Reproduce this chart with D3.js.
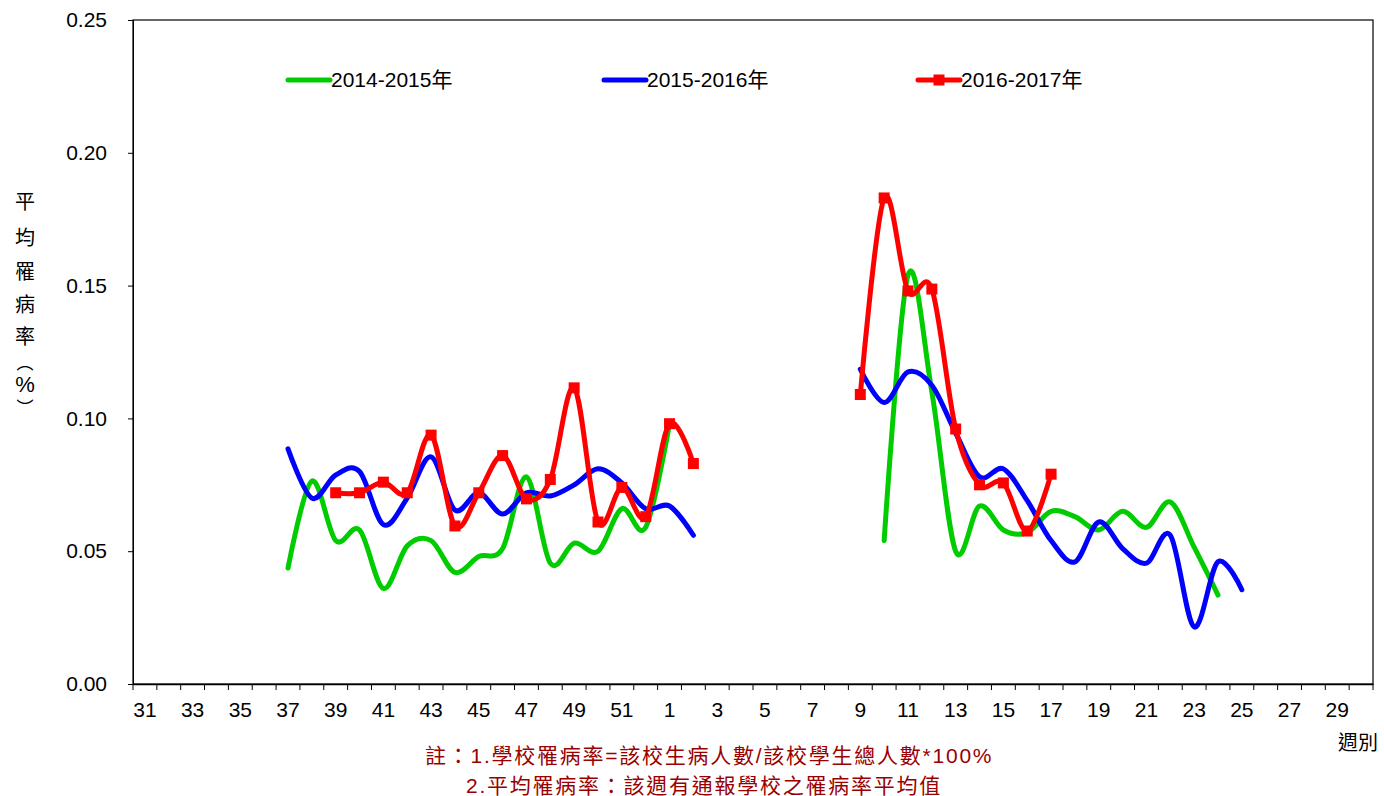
<!DOCTYPE html>
<html><head><meta charset="utf-8">
<script src="https://cdn.jsdelivr.net/npm/d3@7"></script>
<style>
body{margin:0;background:#fff;}
svg{display:block;}
text{font-family:"Liberation Sans",Arial,"Noto Sans CJK TC",sans-serif;}
</style></head>
<body>
<svg id="c" width="1384" height="796"></svg>
<script>
// ---- data ----
const weeks = [31,32,33,34,35,36,37,38,39,40,41,42,43,44,45,46,47,48,49,50,51,52,
  1,2,3,4,5,6,7,8,9,10,11,12,13,14,15,16,17,18,19,20,21,22,23,24,25,26,27,28,29,30].map(String);
const seriesNames = ["2014-2015年","2015-2016年","2016-2017年"];
const seriesColors = ["#00CC00","#0000FF","#FF0000"];
const yTicks = [0,0.05,0.10,0.15,0.20,0.25];

// 2014-2015: [week, value]
const s2014a = [["37",0.0437],["38",0.0764],["39",0.054],["40",0.058],["41",0.036],["42",0.052],["43",0.054],["44",0.042],["45",0.048],["46",0.051],["47",0.078],["48",0.0455],["49",0.053],["50",0.050],["51",0.066],["52",0.059],["1",0.098]];
const s2014b = [["10",0.054],["11",0.154],["12",0.110],["13",0.050],["14",0.067],["15",0.058],["16",0.057],["17",0.065],["18",0.063],["19",0.058],["20",0.065],["21",0.059],["22",0.0685],["23",0.0515],["24",0.0335]];
// 2015-2016
const s2015a = [["37",0.0885],["38",0.070],["39",0.0787],["40",0.080],["41",0.060],["42",0.070],["43",0.0855],["44",0.0655],["45",0.072],["46",0.064],["47",0.072],["48",0.0708],["49",0.075],["50",0.081],["51",0.0757],["52",0.066],["1",0.067],["2",0.056]];
const s2015b = [["9",0.1185],["10",0.106],["11",0.1175],["12",0.1125],["13",0.0945],["14",0.078],["15",0.081],["16",0.069],["17",0.054],["18",0.046],["19",0.061],["20",0.051],["21",0.0455],["22",0.056],["23",0.0215],["24",0.046],["25",0.0355]];
// 2016-2017
const s2016a = [["39",0.072],["40",0.072],["41",0.076],["42",0.072],["43",0.0937],["44",0.0595],["45",0.072],["46",0.086],["47",0.0697],["48",0.077],["49",0.1115],["50",0.061],["51",0.074],["52",0.063],["1",0.098],["2",0.083]];
const s2016b = [["9",0.109],["10",0.183],["11",0.148],["12",0.1487],["13",0.096],["14",0.075],["15",0.0757],["16",0.0576],["17",0.079]];

const titleBlue = "2014年至2017年學校傳染病監視系統類流感平均罹病率趨勢圖－";
const titleRed = "全國";
const yLabelChars = ["平","均","罹","病","率","︵","%","︶"];
const note1 = "註：1.學校罹病率=該校生病人數/該校學生總人數*100%";
const note2 = "2.平均罹病率：該週有通報學校之罹病率平均值";
const xTitle = "週別";

// ---- layout ----
const L=133, R=1373, T=20, B=684;
const svg = d3.select("#c");
const x = d3.scaleBand().domain(weeks).range([L,R]).padding(0);
const y = d3.scaleLinear().domain([0,0.25]).range([B,T]);
const bw = x.bandwidth();
const cx = w => x(w)+bw/2;

// title (mostly cropped at top, as in the reference)
const tt = svg.append("text").attr("x",300).attr("y",-4)
  .attr("font-size",30).attr("font-weight","bold").attr("fill","#333399")
  .style("font-family","'Noto Sans CJK TC',sans-serif");
tt.append("tspan").text(titleBlue);
tt.append("tspan").attr("fill","#FF0000").text(titleRed);

// plot border
svg.append("rect").attr("x",L).attr("y",T).attr("width",R-L).attr("height",B-T)
  .attr("fill","none").attr("stroke","#000").attr("stroke-width",1.2);

// y axis
const ya = svg.append("g").attr("transform",`translate(${L},0)`)
  .call(d3.axisLeft(y).tickValues(yTicks).tickFormat(d3.format(".2f")).tickSize(5).tickPadding(21));
ya.select(".domain").attr("stroke","#000");
ya.selectAll("text").attr("font-size",21).attr("fill","#000")
  .style("font-family","'Liberation Sans',Arial,sans-serif");

// x axis
const xa = svg.append("g").attr("transform",`translate(0,${B})`)
  .call(d3.axisBottom(x).tickSize(6).tickSizeOuter(0).tickPadding(12)
    .tickFormat((d,i)=> i%2===0 ? d : ""));
xa.select(".domain").attr("stroke","#000").attr("stroke-width",1.5);
xa.selectAll(".tick line").attr("transform",`translate(${-bw/2},0)`);
xa.append("line").attr("x1",R).attr("x2",R).attr("y1",0).attr("y2",6).attr("stroke","#000");
xa.selectAll("text").attr("font-size",21).attr("fill","#000")
  .style("font-family","'Liberation Sans',Arial,sans-serif");

// lines
const line = d3.line().x(d=>cx(d[0])).y(d=>y(d[1])).curve(d3.curveCardinal.tension(0));
const groups = [[s2014a,s2014b],[s2015a,s2015b],[s2016a,s2016b]];
const g = svg.append("g");
groups.forEach((segs,i)=>{
  segs.forEach(seg=>{
    g.append("path").attr("d",line(seg)).attr("fill","none")
      .attr("stroke",seriesColors[i]).attr("stroke-width",5)
      .attr("stroke-linecap","round").attr("stroke-linejoin","round");
  });
});
// red markers
[s2016a,s2016b].forEach(seg=>{
  g.selectAll(null).data(seg).enter().append("rect")
    .attr("x",d=>cx(d[0])-5.5).attr("y",d=>y(d[1])-5.5)
    .attr("width",11).attr("height",11).attr("fill","#FF0000");
});

// legend
const legX = [288,604,918];
seriesNames.forEach((n,i)=>{
  const lg = svg.append("g");
  lg.append("line").attr("x1",legX[i]).attr("x2",legX[i]+42).attr("y1",80).attr("y2",80)
    .attr("stroke",seriesColors[i]).attr("stroke-width",5).attr("stroke-linecap","round");
  if(i===2) lg.append("rect").attr("x",legX[i]+21-5.5).attr("y",80-5.5).attr("width",11).attr("height",11).attr("fill","#FF0000");
  lg.append("text").attr("x",legX[i]+43).attr("y",87).attr("font-size",21).attr("fill","#000").text(n);
});

// y axis title (vertical stacked)
const yPos = [200,236,270,303,335,361,384,406];
yLabelChars.forEach((c,i)=>{
  svg.append("text").attr("x",25).attr("y",yPos[i]).attr("text-anchor","middle")
    .attr("dominant-baseline","central")
    .attr("font-size", c==="%" ? 22 : (c==="︵"||c==="︶") ? 17 : 20).attr("fill","#000")
    .style("font-family", c==="%" ? "'Liberation Sans',Arial,sans-serif" : "'Noto Sans CJK TC',sans-serif")
    .text(c);
});

// x axis title
svg.append("text").attr("x",1358).attr("y",750).attr("text-anchor","middle")
  .attr("font-size",20).attr("fill","#000").style("font-family","'Noto Sans CJK TC',sans-serif").text(xTitle);

// notes
svg.append("text").attr("x",425).attr("y",763).attr("font-size",21).attr("letter-spacing",1.75).attr("fill","#990000").text(note1);
svg.append("text").attr("x",466).attr("y",793).attr("font-size",21).attr("letter-spacing",1.75).attr("fill","#990000").text(note2);
</script>
</body></html>
